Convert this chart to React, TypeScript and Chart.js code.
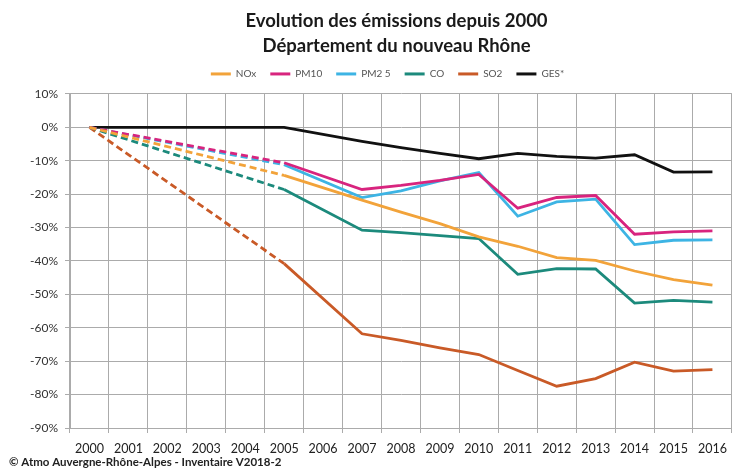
import React, { useEffect, useRef } from "react";
import { Chart, registerables } from "chart.js";

Chart.register(...registerables);

const years = ["2000", "2001", "2002", "2003", "2004", "2005", "2006", "2007", "2008", "2009", "2010", "2011", "2012", "2013", "2014", "2015", "2016"];
const nox = [0, null, null, null, null, -14.4, null, -21.8, -25.4, -28.8, -32.8, -35.6, -39, -39.8, -43, -45.6, -47.2];
const pm10 = [0, null, null, null, null, -10.6, null, -18.6, -17.4, -15.9, -14.1, -24.2, -21, -20.4, -32, -31.3, -31];
const pm25 = [0, null, null, null, null, -11.2, null, -21, -19, -16, -13.5, -26.6, -22.3, -21.5, -35.1, -33.8, -33.7];
const co = [0, null, null, null, null, -18.6, null, -30.8, -31.5, -32.4, -33.3, -44, -42.3, -42.4, -52.6, -51.8, -52.3];
const so2 = [0, null, null, null, null, -40.8, null, -61.8, -63.8, -66, -68, -72.8, -77.5, -75.2, -70.3, -73, -72.5];
const ges = [0, null, null, null, null, 0, null, -4.2, -6.1, -7.8, -9.4, -7.8, -8.7, -9.2, -8.2, -13.4, -13.3];

const seriesNames = ["NOx", "PM10", "PM2 5", "CO", "SO2", "GES*"];
const seriesColors = ["#F2A33A", "#D8247E", "#3DB4E4", "#1C8A7C", "#C95A27", "#111111"];
const titleLines = ["Evolution des émissions depuis 2000", "Département du nouveau Rhône"];
const footerText = "© Atmo Auvergne-Rhône-Alpes - Inventaire V2018-2";
const dashedUntil = "2005";

const FONT = "Lato, 'DejaVu Sans', sans-serif";

export default function App() {
  const ref = useRef<HTMLCanvasElement | null>(null);

  useEffect(() => {
    if (!ref.current) return;
    const values = [nox, pm10, pm25, co, so2, ges];
    const dashEnd = years.indexOf(dashedUntil);
    const datasets = values.map((d, i) => ({
      label: seriesNames[i],
      data: d,
      borderColor: seriesColors[i],
      backgroundColor: seriesColors[i],
      borderWidth: 2.8,
      pointRadius: 0,
      tension: 0,
      spanGaps: true,
      fill: false,
      segment: {
        borderDash: (ctx: any) => (i < 5 && ctx.p1DataIndex <= dashEnd ? [7, 4] : undefined),
      },
    }));

    const footer = {
      id: "footer",
      afterDraw(chart: any) {
        const c = chart.ctx;
        c.save();
        c.font = `bold 11.5px ${FONT}`;
        c.fillStyle = "#222";
        c.textBaseline = "middle";
        c.textAlign = "left";
        c.fillText(footerText, 9, 462);
        c.restore();
      },
    };

    const shiftHeader = {
      id: "shiftHeader",
      afterLayout(chart: any) {
        const t = chart.titleBlock;
        if (t) {
          t.left += 30;
          t.right += 30;
        }
        const l = chart.legend;
        if (l) {
          l.left += 21;
          l.right += 21;
          l.top -= 5;
          l.bottom -= 5;
        }
      },
    };

    const chart = new Chart(ref.current, {
      type: "line",
      data: { labels: years, datasets },
      plugins: [footer, shiftHeader],
      options: {
        animation: false,
        responsive: false,
        layout: { padding: { left: 0, right: 2, top: 0, bottom: 0 } },
        plugins: {
          title: {
            display: true,
            text: titleLines,
            color: "#1a1a1a",
            font: { family: FONT, size: 18.5, weight: "bold", lineHeight: 1.35 },
            padding: { top: 8.5, bottom: 1.5 },
          },
          legend: {
            display: true,
            position: "top",
            labels: {
              color: "#555",
              font: { family: FONT, size: 10 },
              boxWidth: 20,
              boxHeight: 3,
              padding: 14,
              generateLabels: (ch: any) =>
                ch.data.datasets.map((ds: any, i: number) => ({
                  text: ds.label,
                  fillStyle: ds.borderColor,
                  strokeStyle: ds.borderColor,
                  lineWidth: 0,
                  hidden: false,
                  datasetIndex: i,
                  fontColor: "#555",
                })),
            },
          },
          tooltip: { enabled: false },
        },
        scales: {
          x: {
            type: "category",
            offset: true,
            grid: { offset: true, color: "#ababab", lineWidth: 1, tickLength: 5, drawTicks: true },
            border: { color: "#ababab" },
            ticks: {
              color: "#222",
              font: { family: FONT, size: 12.5 },
              padding: 8,
              maxRotation: 0,
              autoSkip: false,
            },
            afterFit: (s: any) => {
              s.height = 40;
            },
          },
          y: {
            min: -90,
            max: 10,
            grid: { color: "#ababab", lineWidth: 1, tickLength: 5 },
            border: { color: "#ababab" },
            ticks: {
              stepSize: 10,
              color: "#333",
              font: { family: FONT, size: 12 },
              padding: 7,
              callback: (v: any) => `${Math.round(Number(v))}%`,
            },
            afterFit: (s: any) => {
              s.width = 70;
            },
          },
        },
      },
    });
    return () => chart.destroy();
  }, []);

  return (
    <div style={{ position: "absolute", left: 0, top: 0, width: 735, height: 468, background: "#fff" }}>
      <canvas ref={ref} width={735} height={468} />
    </div>
  );
}
